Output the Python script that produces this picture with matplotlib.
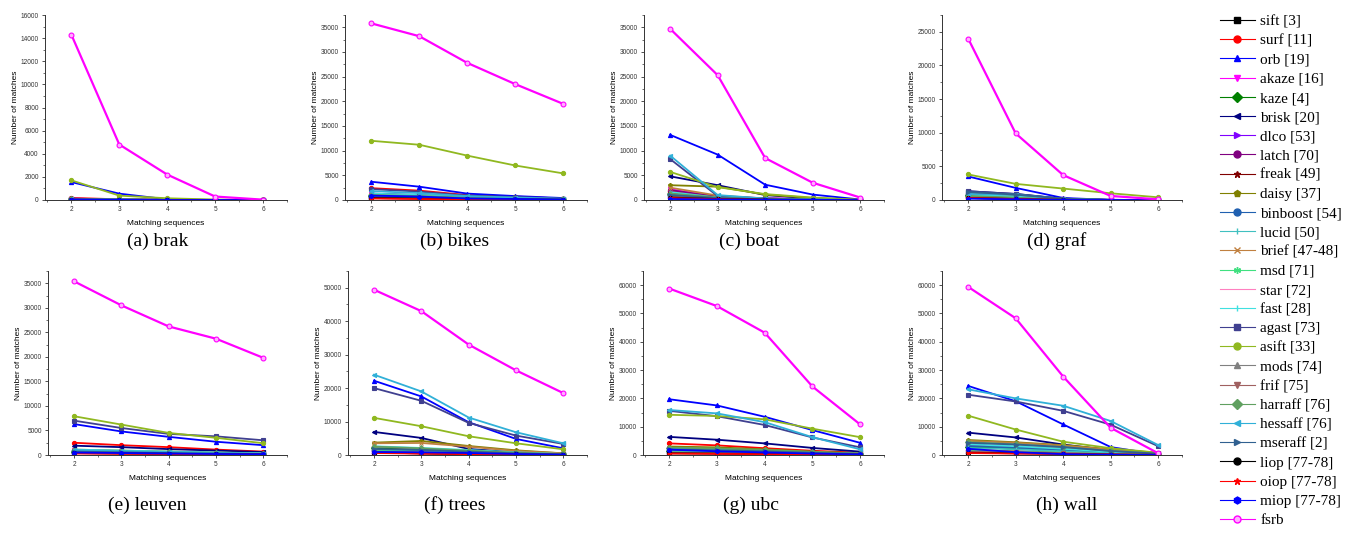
"""
Matches per matching-sequence length for the 8 sequences, 27 detectors
"""
import matplotlib
matplotlib.use("Agg")
import matplotlib.pyplot as plt
from matplotlib.lines import Line2D
from matplotlib.ticker import MultipleLocator, AutoMinorLocator

x = [2, 3, 4, 5, 6]

methods = ["sift [3]", "surf [11]", "orb [19]", "akaze [16]", "kaze [4]", "brisk [20]",
           "dlco [53]", "latch [70]", "freak [49]", "daisy [37]", "binboost [54]",
           "lucid [50]", "brief [47-48]", "msd [71]", "star [72]", "fast [28]",
           "agast [73]", "asift [33]", "mods [74]", "frif [75]", "harraff [76]",
           "hessaff [76]", "mseraff [2]", "liop [77-78]", "oiop [77-78]",
           "miop [77-78]", "fsrb"]

colors = ["#000000", "#ff0000", "#0000ff", "#ff00ff", "#008000", "#000080",
          "#8000ff", "#800080", "#800000", "#808000", "#2060b0", "#40c0c0",
          "#c08040", "#40e080", "#ff80c0", "#40e0e0", "#404090", "#90b820",
          "#808080", "#a06060", "#60a060", "#30b0d8", "#306090", "#000000",
          "#ff0000", "#0000ff", "#ff00ff"]

markers = ["s", "o", "^", "v", "D", "<", ">", "o", "*", "p", "o", "|", "x",
           (6, 2, 0), "", "|", "s", "o", "^", "v", "D", "<", ">", "o", "*", "h", "o"]

# one row per method (legend order), values at x = 2..6
brak = [[100, 20, 5, 0, 0], [180, 60, 20, 5, 0], [1550, 550, 60, 10, 0],
        [120, 40, 10, 0, 0], [80, 30, 10, 0, 0], [100, 40, 10, 0, 0],
        [60, 20, 5, 0, 0], [70, 20, 5, 0, 0], [60, 20, 5, 0, 0],
        [90, 30, 10, 0, 0], [70, 20, 5, 0, 0], [60, 20, 5, 0, 0],
        [80, 25, 5, 0, 0], [50, 15, 5, 0, 0], [40, 10, 0, 0, 0],
        [60, 20, 5, 0, 0], [120, 40, 10, 0, 0], [1700, 380, 150, 40, 5],
        [50, 15, 5, 0, 0], [50, 15, 5, 0, 0], [60, 20, 5, 0, 0],
        [100, 30, 10, 0, 0], [40, 10, 0, 0, 0], [30, 10, 0, 0, 0],
        [30, 10, 0, 0, 0], [40, 10, 0, 0, 0], [14300, 4800, 2200, 300, 30]]

bikes = [[600, 400, 200, 100, 50], [2400, 1900, 1000, 700, 300], [3700, 2700, 1300, 800, 400],
         [1200, 900, 500, 300, 150], [800, 600, 300, 200, 100], [1300, 1000, 600, 400, 200],
         [500, 400, 200, 100, 50], [700, 500, 300, 150, 80], [600, 450, 250, 150, 80],
         [1000, 800, 500, 300, 150], [900, 700, 400, 250, 120], [700, 500, 300, 200, 100],
         [1100, 900, 500, 300, 150], [500, 400, 200, 100, 50], [400, 300, 150, 80, 40],
         [1300, 1000, 600, 400, 200], [2200, 1700, 900, 600, 300], [12000, 11200, 9000, 7000, 5400],
         [600, 450, 250, 150, 80], [500, 400, 200, 100, 50], [1000, 800, 500, 300, 150],
         [1800, 1400, 800, 500, 250], [700, 500, 300, 200, 100], [400, 300, 150, 100, 50],
         [300, 200, 100, 50, 30], [900, 700, 300, 200, 100], [35800, 33200, 27800, 23500, 19500]]

boat = [[1500, 500, 150, 50, 0], [1800, 700, 300, 100, 0], [13200, 9200, 3100, 1100, 100],
        [2200, 600, 400, 150, 0], [1200, 400, 150, 50, 0], [4800, 3000, 1000, 300, 0],
        [900, 300, 100, 30, 0], [2000, 700, 300, 100, 0], [1400, 500, 200, 50, 0],
        [3000, 2700, 1100, 400, 0], [1100, 400, 150, 50, 0], [900, 300, 100, 30, 0],
        [2500, 900, 300, 100, 0], [700, 250, 100, 30, 0], [600, 200, 80, 20, 0],
        [1600, 500, 200, 50, 0], [8300, 800, 300, 100, 0], [5700, 2600, 1200, 500, 50],
        [800, 300, 100, 30, 0], [700, 250, 100, 30, 0], [1300, 500, 200, 50, 0],
        [9000, 1000, 300, 100, 0], [1000, 400, 150, 50, 0], [500, 200, 80, 20, 0],
        [400, 150, 50, 20, 0], [200, 100, 50, 20, 0], [34700, 25300, 8500, 3500, 500]]

graf = [[600, 300, 50, 0, 0], [500, 250, 50, 0, 0], [3500, 1800, 300, 20, 0],
        [1000, 600, 100, 10, 0], [700, 350, 60, 0, 0], [1300, 900, 200, 20, 0],
        [500, 250, 40, 0, 0], [1100, 700, 100, 10, 0], [500, 250, 40, 0, 0],
        [900, 600, 100, 10, 0], [800, 500, 80, 0, 0], [700, 400, 60, 0, 0],
        [900, 500, 80, 0, 0], [400, 200, 30, 0, 0], [300, 150, 20, 0, 0],
        [800, 500, 80, 0, 0], [1300, 900, 150, 20, 0], [3800, 2400, 1700, 1000, 400],
        [500, 250, 40, 0, 0], [400, 200, 30, 0, 0], [600, 350, 50, 0, 0],
        [900, 800, 150, 10, 0], [1200, 800, 200, 20, 0], [300, 150, 20, 0, 0],
        [300, 150, 20, 0, 0], [200, 100, 10, 0, 0], [24000, 9900, 3700, 600, 100]]

leuven = [[800, 600, 450, 300, 200], [2500, 2000, 1600, 1100, 700], [6300, 4800, 3700, 2700, 2000],
          [1000, 800, 600, 400, 300], [700, 550, 400, 300, 200], [1900, 1600, 1200, 900, 600],
          [500, 400, 300, 200, 150], [800, 650, 500, 350, 250], [600, 500, 350, 250, 150],
          [1100, 900, 700, 500, 350], [800, 600, 450, 300, 200], [900, 700, 550, 400, 250],
          [1000, 800, 600, 400, 300], [600, 450, 350, 250, 150], [400, 300, 250, 150, 100],
          [1100, 900, 700, 500, 350], [7000, 5500, 4300, 3800, 3000], [7900, 6200, 4500, 3500, 2400],
          [600, 450, 350, 250, 150], [500, 400, 300, 200, 150], [900, 700, 550, 400, 250],
          [1000, 800, 600, 450, 300], [700, 550, 400, 300, 200], [400, 300, 250, 150, 100],
          [300, 250, 200, 100, 80], [500, 400, 300, 200, 150], [35400, 30500, 26200, 23700, 19800]]

trees = [[1000, 800, 500, 250, 100], [1200, 900, 400, 150, 50], [22200, 17500, 9800, 4800, 2000],
         [2200, 1800, 900, 400, 150], [2000, 1500, 1000, 500, 200], [6900, 5100, 1800, 800, 300],
         [800, 600, 400, 200, 100], [1500, 1200, 700, 300, 100], [700, 500, 300, 150, 50],
         [3700, 4200, 2700, 1400, 500], [1600, 1300, 800, 400, 150], [1400, 1100, 700, 350, 120],
         [3500, 3600, 2500, 1200, 500], [1200, 900, 600, 300, 100], [900, 700, 400, 200, 80],
         [2600, 2100, 1500, 800, 300], [20000, 16200, 9600, 5800, 3300], [11100, 8600, 5600, 3500, 1700],
         [1000, 800, 500, 250, 100], [900, 700, 400, 200, 80], [2500, 2000, 1300, 700, 250],
         [24000, 19000, 11200, 6800, 3500], [1800, 1500, 1000, 500, 200], [700, 500, 300, 150, 50],
         [600, 400, 250, 120, 40], [900, 800, 600, 300, 100], [49400, 43000, 33000, 25300, 18500]]

ubc = [[1200, 1000, 800, 500, 300], [4100, 3400, 2400, 1500, 800], [19700, 17500, 13500, 8800, 4300],
       [2000, 1700, 1300, 800, 400], [1500, 1300, 1000, 600, 300], [6400, 5400, 4100, 2500, 1200],
       [800, 700, 500, 300, 150], [1600, 1400, 1000, 600, 300], [900, 700, 550, 350, 200],
       [3000, 2700, 2000, 1200, 600], [1800, 1500, 1100, 700, 350], [1300, 1100, 800, 500, 250],
       [2500, 2200, 1700, 1000, 500], [1000, 850, 650, 400, 200], [700, 600, 450, 300, 150],
       [2200, 1900, 1400, 900, 450], [15600, 13700, 10600, 6200, 2700], [14200, 13800, 12600, 9300, 6300],
       [900, 750, 600, 350, 200], [700, 600, 450, 300, 150], [2600, 2300, 1800, 1100, 500],
       [15900, 14700, 11600, 6300, 2000], [2000, 1700, 1300, 800, 400], [600, 500, 400, 250, 120],
       [500, 400, 300, 200, 100], [1900, 1300, 900, 500, 200], [58800, 52600, 43200, 24200, 10800]]

wall = [[1500, 1100, 700, 300, 100], [1800, 1300, 800, 300, 100], [24400, 19000, 10800, 2800, 200],
        [3000, 2400, 1600, 700, 200], [2800, 2300, 1500, 700, 200], [7900, 6200, 3700, 1700, 600],
        [1000, 800, 500, 200, 60], [3500, 2800, 1800, 800, 250], [1200, 900, 600, 250, 80],
        [5300, 4500, 3500, 2000, 800], [3200, 2600, 1700, 800, 250], [2500, 2000, 1300, 600, 200],
        [5000, 4300, 3300, 1900, 700], [1500, 1200, 800, 350, 100], [1000, 800, 500, 200, 60],
        [3800, 3100, 2200, 1100, 350], [21300, 18900, 15600, 10700, 3100], [13900, 9000, 4700, 2400, 800],
        [1300, 1000, 700, 300, 100], [1100, 900, 600, 250, 80], [4500, 3800, 2800, 1500, 500],
        [23200, 20000, 17400, 12000, 3500], [4300, 3700, 2800, 1400, 450], [800, 600, 400, 150, 50],
        [700, 500, 350, 150, 50], [2200, 1000, 300, 100, 0], [59400, 48300, 27700, 9600, 600]]

datasets = [brak, bikes, boat, graf, leuven, trees, ubc, wall]
captions = ["(a) brak", "(b) bikes", "(c) boat", "(d) graf",
            "(e) leuven", "(f) trees", "(g) ubc", "(h) wall"]
ymax = [16000, 37500, 37500, 27500, 37500, 55000, 65000, 65000]
ystep = [2000, 5000, 5000, 5000, 5000, 10000, 10000, 10000]

W, H = 1347, 536
fig = plt.figure(figsize=(W / 100, H / 100), dpi=100)

# axes boxes in pixels: left, right ; rows share top/bottom
lefts = [(45, 287), (345, 587), (644, 884), (942, 1182),
         (48, 287), (348, 587), (643, 884), (942, 1182)]
rows = [(15, 200), (271, 455)]
cap_x = [158, 455, 749, 1057, 147, 455, 751, 1067]
cap_y = [241, 505]

for i, data in enumerate(datasets):
    l, r = lefts[i]
    t, b = rows[i // 4]
    ax = fig.add_axes([l / W, 1 - b / H, (r - l) / W, (b - t) / H])
    for j, vals in enumerate(data):
        last = j == len(data) - 1
        ax.plot(x, vals, color=colors[j], marker=markers[j], ms=3 if not last else 3.5,
                lw=1.3 if not last else 1.6,
                mfc="#ffb0ff" if last else colors[j], mec=colors[j], mew=0.8, zorder=2 + j * 0.01)
    ax.set_xlim(1.45, 6.5)
    ax.set_ylim(0, ymax[i])
    ax.xaxis.set_major_locator(MultipleLocator(1))
    ax.yaxis.set_major_locator(MultipleLocator(ystep[i]))
    ax.xaxis.set_minor_locator(AutoMinorLocator(2))
    ax.yaxis.set_minor_locator(AutoMinorLocator(2))
    for s in ["top", "right"]:
        ax.spines[s].set_visible(False)
    for s in ["left", "bottom"]:
        ax.spines[s].set_linewidth(0.7)
        ax.spines[s].set_color("#333333")
    ax.tick_params(which="major", length=2.5, width=0.6, labelsize=4.7, pad=2, colors="#333333")
    ax.tick_params(which="minor", length=1.3, width=0.5, colors="#333333")
    for lab in ax.get_xticklabels() + ax.get_yticklabels():
        lab.set_fontfamily("Liberation Sans")
    ax.set_xlabel("Matching sequences", fontsize=6, family="Liberation Sans", labelpad=5)
    ax.set_ylabel("Number of matches", fontsize=6, family="Liberation Sans", labelpad=1)
    fig.text(cap_x[i] / W, 1 - cap_y[i // 4] / H, captions[i], ha="center", va="center",
             fontsize=14, family="Liberation Serif")

handles = []
for j in range(len(methods)):
    last = j == len(methods) - 1
    handles.append(Line2D([], [], color=colors[j], marker=markers[j], lw=0.8, ms=5,
                          mfc="#ffb0ff" if last else colors[j], mec=colors[j]))
fig.legend(handles, methods, loc="upper left", bbox_to_anchor=(1212 / W, 1 - 7 / H),
           frameon=False, prop={"family": "Liberation Serif", "size": 11},
           labelspacing=0.36, handlelength=2.3, handletextpad=0.35, borderpad=0)

fig.savefig("out.png", dpi=100)
